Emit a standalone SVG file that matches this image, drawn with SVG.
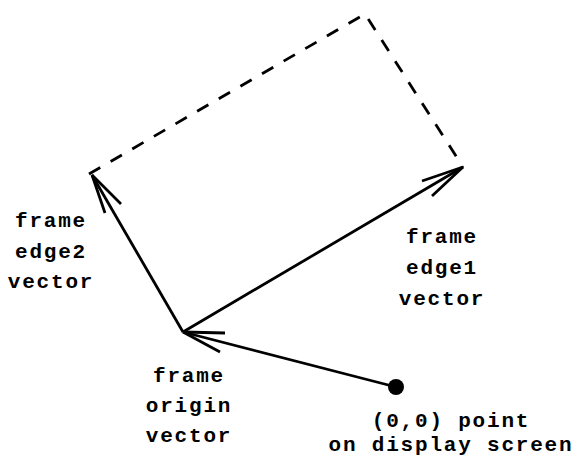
<svg xmlns="http://www.w3.org/2000/svg" width="577" height="458" viewBox="0 0 577 458">
<style>
.ln{fill:none;stroke:#000;stroke-width:2.8;stroke-linecap:butt;stroke-linejoin:miter}
.dash{stroke-dasharray:13 12}
.t{font-family:"Liberation Mono","Courier New",monospace;font-weight:bold;font-size:21px;letter-spacing:1.8px;fill:#000;text-anchor:middle}
</style>
<rect width="577" height="458" fill="#fff"/>
<g id="connectors">
<path class="ln dash" d="M89,174 L365,14 L463,167"/>
<path class="ln" d="M183,332 L92,175"/>
<polyline class="ln" points="105,213 92,175 121,204"/>
<path class="ln" d="M183,332 L463,167"/>
<polyline class="ln" points="422,181 463,167 432,196"/>
<path class="ln" d="M396,387 L183,332"/>
<polyline class="ln" points="225,333 183,332 220,352"/>
</g>
<g id="screen-origin">
<circle cx="396" cy="387" r="8" fill="#000"/>
<text class="t" x="451" y="427">(0,0) point</text>
<text class="t" x="451" y="451">on display screen</text>
</g>
<g id="edge2-label">
<text class="t" x="51" y="227">frame</text>
<text class="t" x="51" y="258">edge2</text>
<text class="t" x="51" y="288">vector</text>
</g>
<g id="edge1-label">
<text class="t" x="442" y="243">frame</text>
<text class="t" x="442" y="274">edge1</text>
<text class="t" x="442" y="305">vector</text>
</g>
<g id="origin-label">
<text class="t" x="189" y="382">frame</text>
<text class="t" x="189" y="412">origin</text>
<text class="t" x="189" y="442">vector</text>
</g>
</svg>
